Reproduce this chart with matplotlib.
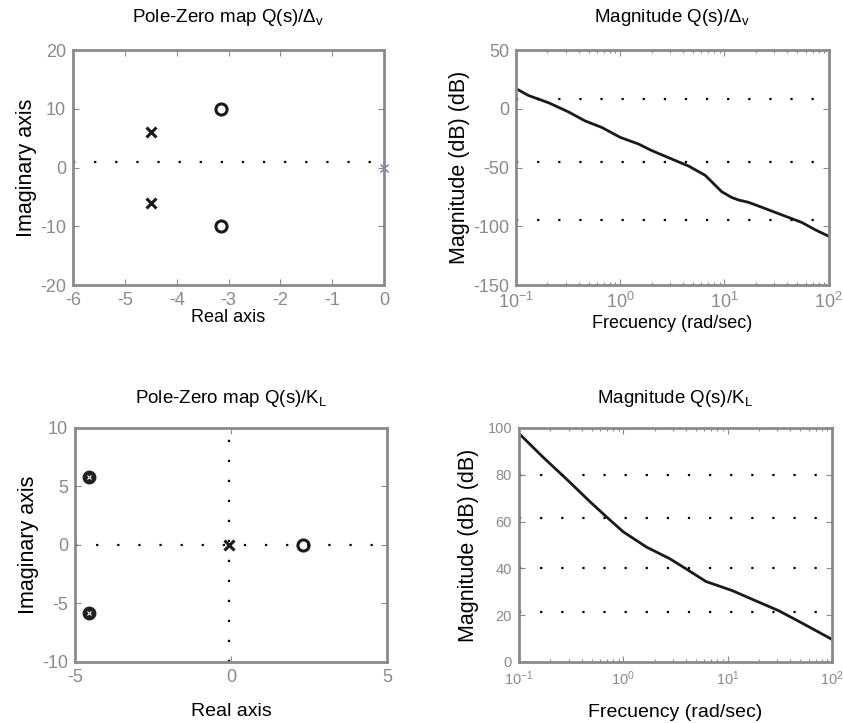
import matplotlib
matplotlib.use('Agg')
import matplotlib.pyplot as plt
import numpy as np
from matplotlib.ticker import LogLocator, NullFormatter

plt.rcParams['font.family'] = ['Liberation Sans', 'DejaVu Sans']
plt.rcParams['mathtext.fontset'] = 'custom'
plt.rcParams['mathtext.rm'] = 'Liberation Sans'
plt.rcParams['mathtext.it'] = 'Liberation Sans'
plt.rcParams['axes.unicode_minus'] = False

# pole-zero map Q(s)/Delta_v
pz1_poles_re = [-4.5, -4.5]
pz1_poles_im = [6, -6]
pz1_zeros_re = [-3.15, -3.15]
pz1_zeros_im = [10, -10]
pz1_extra_re = [0.0]
pz1_extra_im = [0.0]

# magnitude Q(s)/Delta_v
mag1_f = [0.1, 0.132, 0.206, 0.32, 0.46, 0.667, 1.0, 1.5, 2.0, 3.37, 4.52, 6.53,
          7.57, 9.42, 11.7, 13.6, 17.0, 22.8, 35.5, 55.1, 74.0, 100.0]
mag1_db = [17.2, 11.3, 5.1, -2.7, -10.3, -15.9, -24.3, -30.0, -35.5, -44.0, -48.7, -56.6,
           -62.2, -70.6, -75.4, -77.6, -79.6, -83.8, -90.3, -96.7, -102.9, -108.5]

# pole-zero map Q(s)/K_L
pz2_double_re = [-4.55, -4.55]
pz2_double_im = [5.85, -5.85]
pz2_poles_re = [-0.05]
pz2_poles_im = [0.0]
pz2_zeros_re = [2.3]
pz2_zeros_im = [0.0]

# magnitude Q(s)/K_L
mag2_f = [0.1, 0.171, 0.286, 0.479, 0.69, 1.0, 1.67, 2.8, 4.0, 6.2, 11.1, 18.5,
          31.0, 50.0, 100.0]
mag2_db = [97.6, 87.4, 78.1, 68.5, 62.0, 55.6, 49.1, 44.1, 39.8, 34.4, 30.5, 26.2,
           21.9, 17.0, 9.7]

gray = '#8a8a8a'
dots = (0, (1, 8.5))

fig = plt.figure(figsize=(8.43, 7.23), dpi=100)
ax1 = fig.add_axes([0.0866, 0.6058, 0.369, 0.325])
ax2 = fig.add_axes([0.612, 0.6058, 0.371, 0.325])
ax3 = fig.add_axes([0.089, 0.0844, 0.370, 0.3237])
ax4 = fig.add_axes([0.6157, 0.0844, 0.371, 0.3237])

def style(ax, fs):
    for s in ax.spines.values():
        s.set_color(gray)
        s.set_linewidth(2)
    ax.tick_params(which='both', direction='in', colors=gray, labelsize=fs,
                   top=True, right=True, width=0.8, pad=5)
    ax.tick_params(which='major', length=4)
    ax.tick_params(which='minor', length=2)

# top left
ax1.plot(pz1_poles_re, pz1_poles_im, 'x', color='#1a1a1a', ms=7, mew=2.2)
ax1.plot(pz1_zeros_re, pz1_zeros_im, 'o', mfc='none', mec='#1a1a1a', ms=8, mew=2.2)
ax1.plot(pz1_extra_re, pz1_extra_im, 'x', color='#4a55b0', ms=6, mew=0.8, clip_on=False)
ax1.axhline(1.0, color='k', lw=1.6, ls=dots)
ax1.set_xlim(-6, 0)
ax1.set_ylim(-20, 20)
ax1.set_xticks(range(-6, 1))
ax1.set_yticks([-20, -10, 0, 10, 20])
style(ax1, 13)
ax1.set_title('Pole-Zero map Q(s)/$\\Delta_v$', fontsize=13.5, pad=20)
ax1.set_xlabel('Real axis', fontsize=13, labelpad=0)
ax1.set_ylabel('Imaginary axis', fontsize=15.5, labelpad=2)

# top right
ax2.semilogx(mag1_f, mag1_db, color='#1a1a1a', lw=2)
for y in [8, -45, -95]:
    ax2.axhline(y, color='k', lw=1.6, ls=dots)
ax2.set_xlim(0.1, 100)
ax2.set_ylim(-150, 50)
ax2.set_yticks([-150, -100, -50, 0, 50])
ax2.xaxis.set_minor_locator(LogLocator(base=10, subs=np.arange(2, 10)))
ax2.xaxis.set_minor_formatter(NullFormatter())
style(ax2, 13)
ax2.set_title('Magnitude Q(s)/$\\Delta_v$', fontsize=13.5, pad=20)
ax2.set_xlabel('Frecuency (rad/sec)', fontsize=13, labelpad=2)
ax2.set_ylabel('Magnitude (dB) (dB)', fontsize=15.5, labelpad=2)

# bottom left
ax3.plot(pz2_double_re, pz2_double_im, 'o', color='#222222', mec='#222222', ms=8, mew=2)
ax3.plot(pz2_double_re, pz2_double_im, 'x', color='white', ms=3, mew=0.8)
ax3.plot(pz2_poles_re, pz2_poles_im, 'x', color='#1a1a1a', ms=7, mew=2.2)
ax3.plot(pz2_zeros_re, pz2_zeros_im, 'o', mfc='white', mec='#1a1a1a', ms=8, mew=2.2)
ax3.axhline(0, color='k', lw=1.6, ls=dots)
ax3.axvline(-0.05, color='k', lw=1.6, ls=(0, (1, 8)))
ax3.set_xlim(-5, 5)
ax3.set_ylim(-10, 10)
ax3.set_xticks([-5, 0, 5])
ax3.set_yticks([-10, -5, 0, 5, 10])
style(ax3, 13)
ax3.set_title('Pole-Zero map Q(s)/K$_L$', fontsize=13.5, pad=18)
ax3.set_xlabel('Real axis', fontsize=14, labelpad=12)
ax3.set_ylabel('Imaginary axis', fontsize=15.5, labelpad=2)

# bottom right
ax4.semilogx(mag2_f, mag2_db, color='#1a1a1a', lw=2)
for y in [80, 61.5, 40, 21.5]:
    ax4.axhline(y, color='k', lw=1.6, ls=dots)
ax4.set_xlim(0.1, 100)
ax4.set_ylim(0, 100)
ax4.set_yticks([0, 20, 40, 60, 80, 100])
ax4.xaxis.set_minor_locator(LogLocator(base=10, subs=np.arange(2, 10)))
ax4.xaxis.set_minor_formatter(NullFormatter())
style(ax4, 10.5)
ax4.set_title('Magnitude Q(s)/K$_L$', fontsize=13.5, pad=18)
ax4.set_xlabel('Frecuency (rad/sec)', fontsize=14, labelpad=12)
ax4.set_ylabel('Magnitude (dB) (dB)', fontsize=15.5, labelpad=6)

fig.savefig('out.png', dpi=100)
